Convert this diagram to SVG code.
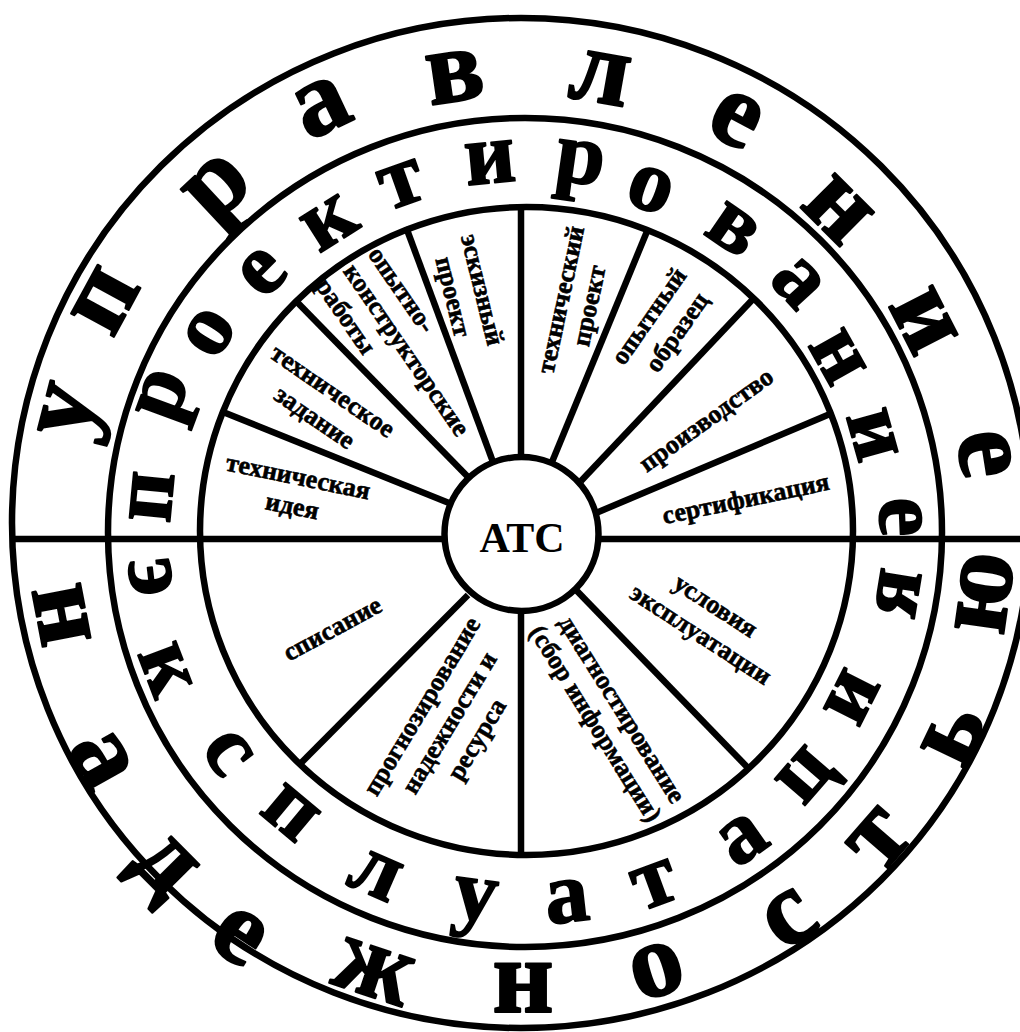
<svg xmlns="http://www.w3.org/2000/svg" width="1020" height="1032" viewBox="0 0 1020 1032">
<style>
.ring{fill:none;stroke:#000;stroke-width:6.5}
.sp{stroke:#000;stroke-width:6.5;stroke-linecap:butt}
.big{font-family:"Liberation Serif","Times New Roman",serif;font-weight:bold;font-size:106px;text-anchor:middle;fill:#000;stroke:#000;stroke-width:2.2;stroke-linejoin:round}
.mid{font-family:"Liberation Serif","Times New Roman",serif;font-weight:bold;font-size:88px;text-anchor:middle;fill:#000;stroke:#000;stroke-width:1.8;stroke-linejoin:round}
.lbl{font-family:"Liberation Serif","Times New Roman",serif;font-weight:bold;font-size:26px;text-anchor:middle;fill:#000;stroke:#000;stroke-width:0.6}
.ctr{font-family:"Liberation Serif","Times New Roman",serif;font-weight:bold;font-size:42px;text-anchor:middle;fill:#000}
</style>
<rect width="1020" height="1032" fill="#fff"/>
<g id="connectors">
<line class="sp" x1="12" y1="539" x2="1020" y2="539"/>
<line class="sp" x1="521" y1="205" x2="521" y2="460"/>
<line class="sp" x1="521" y1="608" x2="521" y2="858"/>
<line class="sp" x1="223" y1="412" x2="449" y2="503"/>
<line class="sp" x1="296" y1="301" x2="468" y2="477"/>
<line class="sp" x1="406" y1="227" x2="493" y2="462"/>
<line class="sp" x1="648" y1="229" x2="552" y2="462"/>
<line class="sp" x1="754" y1="298" x2="581" y2="481"/>
<line class="sp" x1="830" y1="414" x2="596" y2="513"/>
<line class="sp" x1="300" y1="764" x2="468" y2="595"/>
<line class="sp" x1="750" y1="770" x2="577" y2="591"/>
</g>
<g id="rings">
<ellipse class="ring" cx="521" cy="523" rx="509" ry="505"/>
<ellipse class="ring" cx="525" cy="532.5" rx="417" ry="414.5"/>
<ellipse class="ring" cx="526.5" cy="531" rx="326.5" ry="324"/>
</g>
<g id="outer-upper">
<text class="big" transform="translate(68,411) rotate(-75.6)" y="24">у</text>
<text class="big" transform="translate(106,301) rotate(-61.4)" y="24">п</text>
<text class="big" transform="translate(218,188) rotate(-43.1)" y="24">р</text>
<text class="big" transform="translate(322,108) rotate(-25.4)" y="24">а</text>
<text class="big" transform="translate(455,77) rotate(-8.3)" y="24">в</text>
<text class="big" transform="translate(600,78) rotate(10)" y="24">л</text>
<text class="big" transform="translate(735,120) rotate(27.7)" y="24">е</text>
<text class="big" transform="translate(837,210) rotate(44.9)" y="24">н</text>
<text class="big" transform="translate(923,321) rotate(62.9)" y="24">и</text>
<text class="big" transform="translate(984,454) rotate(81)" y="24">е</text>
</g>
<g id="outer-lower">
<text class="big" transform="translate(61,615) rotate(79.2)" y="24">н</text>
<text class="big" transform="translate(100,760) rotate(61)" y="24">а</text>
<text class="big" transform="translate(165,865) rotate(45.2)" y="24">д</text>
<text class="big" transform="translate(238,937) rotate(33)" y="24">е</text>
<text class="big" transform="translate(373,972) rotate(18.4)" y="24">ж</text>
<text class="big" transform="translate(523,988) rotate(0)" y="24">н</text>
<text class="big" transform="translate(657,971) rotate(-17)" y="24">о</text>
<text class="big" transform="translate(790,920) rotate(-34.4)" y="24">с</text>
<text class="big" transform="translate(880,840) rotate(-48.9)" y="24">т</text>
<text class="big" transform="translate(954,735) rotate(-64.4)" y="24">ь</text>
<text class="big" transform="translate(985,593) rotate(-81.9)" y="24">ю</text>
</g>
<g id="middle-upper">
<text class="mid" transform="translate(152,497) rotate(-84.6)" y="20">п</text>
<text class="mid" transform="translate(163,395) rotate(-69.7)" y="20">р</text>
<text class="mid" transform="translate(210,333) rotate(-57.7)" y="20">о</text>
<text class="mid" transform="translate(263,273) rotate(-45.3)" y="20">е</text>
<text class="mid" transform="translate(330,223) rotate(-32.3)" y="20">к</text>
<text class="mid" transform="translate(402,185) rotate(-19.5)" y="20">т</text>
<text class="mid" transform="translate(490,163) rotate(-5.4)" y="20">и</text>
<text class="mid" transform="translate(580,163) rotate(8.2)" y="20">р</text>
<text class="mid" transform="translate(650,190) rotate(20.1)" y="20">о</text>
<text class="mid" transform="translate(733,230) rotate(34.6)" y="20">в</text>
<text class="mid" transform="translate(797,283) rotate(47.5)" y="20">а</text>
<text class="mid" transform="translate(837,357) rotate(60.7)" y="20">н</text>
<text class="mid" transform="translate(872,435) rotate(74.4)" y="20">и</text>
<text class="mid" transform="translate(900,517) rotate(87.7)" y="20">е</text>
</g>
<g id="middle-lower">
<text class="mid" transform="translate(150,577) rotate(83.2)" y="20">э</text>
<text class="mid" transform="translate(165,670) rotate(69)" y="20">к</text>
<text class="mid" transform="translate(227,753) rotate(53.4)" y="20">с</text>
<text class="mid" transform="translate(290,813) rotate(39.9)" y="20">п</text>
<text class="mid" transform="translate(375,875) rotate(23.6)" y="20">л</text>
<text class="mid" transform="translate(475,900) rotate(7.7)" y="20">у</text>
<text class="mid" transform="translate(567,902) rotate(-6.5)" y="20">а</text>
<text class="mid" transform="translate(655,885) rotate(-20.2)" y="20">т</text>
<text class="mid" transform="translate(743,840) rotate(-35.3)" y="20">а</text>
<text class="mid" transform="translate(805,775) rotate(-49)" y="20">ц</text>
<text class="mid" transform="translate(852,697) rotate(-63.2)" y="20">и</text>
<text class="mid" transform="translate(898,593) rotate(-80.7)" y="20">я</text>
</g>
<g id="s1"><text class="lbl" transform="translate(298,478) rotate(11.5)"><tspan x="0" y="7">техническая</tspan><tspan x="0" y="37">идея</tspan></text></g>
<g id="s2"><text class="lbl" transform="translate(332,392) rotate(34.4)"><tspan x="0" y="7">техническое</tspan><tspan x="0" y="39">задание</tspan></text></g>
<g id="s3"><text class="lbl" transform="translate(403,294) rotate(55.5)" style="text-anchor:start"><tspan x="-53" y="7">опытно-</tspan><tspan x="-53" y="37">конструкторские</tspan><tspan x="-57" y="68">работы</tspan></text></g>
<g id="s4"><text class="lbl" transform="translate(481,290) rotate(76.2)"><tspan x="0" y="7">эскизный</tspan><tspan x="0" y="37">проект</tspan></text></g>
<g id="s5"><text class="lbl" transform="translate(562,300) rotate(-78)"><tspan x="0" y="7">технический</tspan><tspan x="0" y="36">проект</tspan></text></g>
<g id="s6"><text class="lbl" transform="translate(650,317) rotate(-55)"><tspan x="0" y="7">опытный</tspan><tspan x="3" y="39">образец</tspan></text></g>
<g id="s7"><text class="lbl" transform="translate(707,421) rotate(-35.7)" y="7">производство</text></g>
<g id="s8"><text class="lbl" transform="translate(746,500) rotate(-11.8)" y="7">сертификация</text></g>
<g id="l1"><text class="lbl" transform="translate(333,630) rotate(-28.4)" y="7">списание</text></g>
<g id="l2"><text class="lbl" transform="translate(423,707) rotate(-59)"><tspan x="0" y="7">прогнозирование</tspan><tspan x="0" y="39">надежности и</tspan><tspan x="0" y="71">ресурса</tspan></text></g>
<g id="l3"><text class="lbl" transform="translate(621,710) rotate(58)"><tspan x="0" y="7">диагностирование</tspan><tspan x="-2" y="37">(сбор информации)</tspan></text></g>
<g id="l4"><text class="lbl" transform="translate(715,607) rotate(33)"><tspan x="0" y="7">условия</tspan><tspan x="3" y="39">эксплуатации</tspan></text></g>
<g id="center">
<circle cx="521.5" cy="534" r="77" fill="#fff" stroke="#000" stroke-width="6.5"/>
<text class="ctr" x="522" y="552">АТС</text>
</g>
</svg>
